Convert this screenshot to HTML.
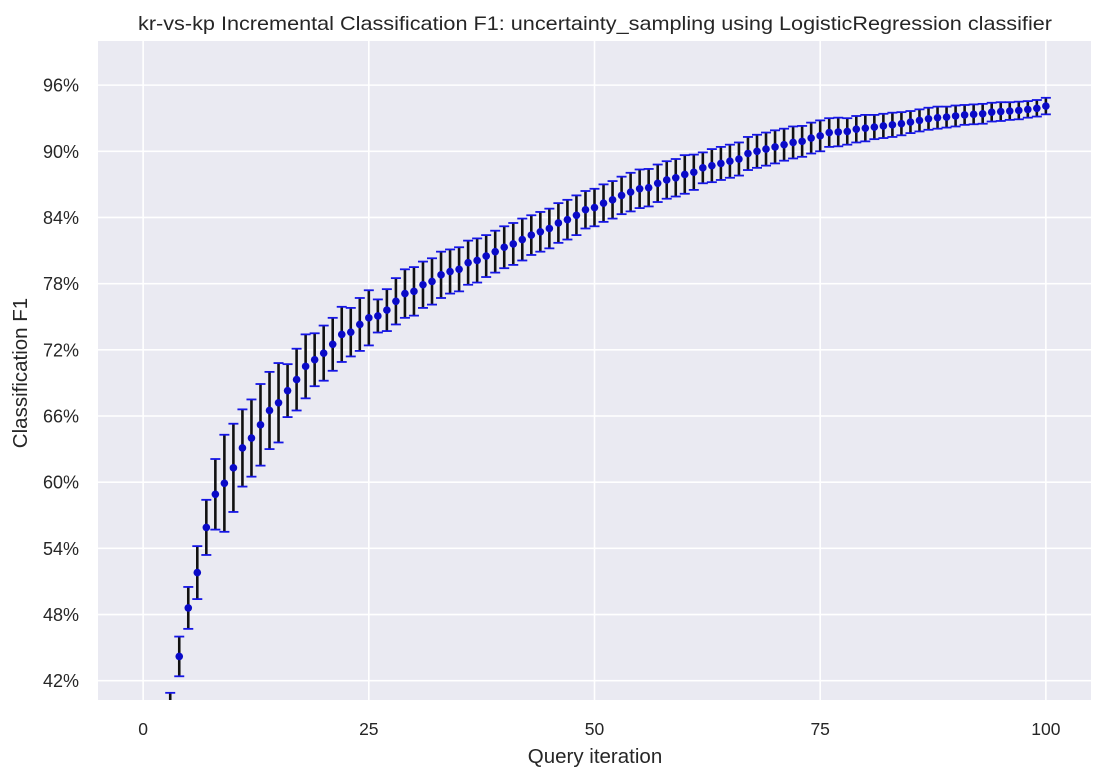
<!DOCTYPE html>
<html><head><meta charset="utf-8"><style>
html,body{margin:0;padding:0;background:#fff;overflow:hidden;width:1104px;height:779px;}
svg{display:block;font-family:"Liberation Sans",Arial,sans-serif;}
</style></head><body>
<svg id="chart" width="1104" height="779">
<defs><clipPath id="clip"><rect x="98" y="41" width="993" height="659"/></clipPath></defs>
<rect x="98" y="41" width="993" height="659" fill="#eaeaf2"/>
<g id="grid"></g><g id="marks"></g><g id="ticks"></g>
<text x="595" y="30" text-anchor="middle" font-size="19.5" textLength="914" lengthAdjust="spacingAndGlyphs" fill="#262626">kr-vs-kp Incremental Classification F1: uncertainty_sampling using LogisticRegression classifier</text>
<text x="595" y="763" text-anchor="middle" font-size="20.5" fill="#262626">Query iteration</text>
<text x="27" y="373" text-anchor="middle" font-size="20.5" fill="#262626" transform="rotate(-90 27 373)">Classification F1</text>
</svg>
<script>
const iterations = Array.from({length:101},(_,i)=>i);
const meanF1 = [30,34,37,39.2,44.2,48.6,51.8,55.9,58.9,59.9,61.3,63.1,64.0,65.2,66.5,67.2,68.3,69.3,70.5,71.1,71.7,72.5,73.4,73.6,74.3,74.9,
75.07,75.6,76.4,77.1,77.3,77.9,78.2,78.8,79.1,79.3,79.9,80.1,80.5,80.9,81.3,81.6,82.0,82.4,82.7,83.0,83.5,83.8,84.2,84.7,84.9,85.3,85.6,86.0,86.3,86.6,86.7,87.1,87.4,87.6,87.9,88.1,88.5,
88.7,88.9,89.1,89.3,89.8,90.0,90.2,90.4,90.6,90.8,90.9,91.2,91.4,91.7,91.75,91.8,92.0,92.1,92.2,92.3,92.4,92.5,92.65,92.8,92.95,93.05,93.1,93.2,93.3,93.35,93.4,93.55,93.6,93.65,93.7,93.8,93.9,94.1];
const errF1 = [2,2,2,1.7,1.8,1.9,2.4,2.5,3.2,4.4,4.0,3.5,3.5,3.7,3.5,3.6,2.4,2.8,2.9,2.4,2.5,2.4,2.5,2.2,2.4,2.5,
1.5,1.9,2.1,2.2,2.2,2.1,2.1,2.1,2.0,2.0,2.0,2.0,1.9,1.9,1.9,1.9,1.9,1.8,1.8,1.8,1.8,1.8,1.8,1.7,1.7,1.7,1.7,1.7,1.75,1.75,1.7,1.7,1.7,1.7,1.75,1.6,1.4,
1.5,1.5,1.5,1.5,1.5,1.5,1.5,1.5,1.45,1.45,1.4,1.4,1.4,1.3,1.3,1.2,1.2,1.2,1.1,1.1,1.1,1.05,1.0,1.0,1.0,1.0,0.95,0.95,0.9,0.9,0.9,0.85,0.85,0.8,0.8,0.75,0.75,0.75];
const yTicks = [42,48,54,60,66,72,78,84,90,96];
const xTicks = [0,25,50,75,100];
const NS='http://www.w3.org/2000/svg';
const L=98,R=1091,T=41,B=700;
const xs=v=>L+(v+5)/110*(R-L);
const ys=v=>T+(100-v)/(100-40.25)*(B-T);
function mk(tag,attrs,parent){const e=document.createElementNS(NS,tag);for(const k in attrs)e.setAttribute(k,attrs[k]);parent.appendChild(e);return e;}
const grid=document.getElementById('grid'),marks=document.getElementById('marks'),ticks=document.getElementById('ticks');
yTicks.forEach(t=>{const y=ys(t);
 const g=mk('line',{x1:L,x2:R,y1:y,y2:y,stroke:'#fff','stroke-width':1.6},grid);
 
 
 const tx=mk('text',{x:79,y:y+6.5,'text-anchor':'end','font-size':18,fill:'#262626'},ticks);
 tx.textContent=t+'%';
 
 
});
xTicks.forEach(t=>{const x=xs(t);
 const g=mk('line',{x1:x,x2:x,y1:T,y2:B,stroke:'#fff','stroke-width':1.6},grid);
 
 
 const tx=mk('text',{x:x,y:735,'text-anchor':'middle','font-size':17.5,fill:'#262626'},ticks);
 tx.textContent=t;
 
 
});
const cg=mk('g',{'clip-path':'url(#clip)'},marks);
iterations.forEach((it,i)=>{
 const x=xs(it),m=meanF1[i],e=errF1[i];
 const g=mk('g',{},cg);
 
 
 mk('line',{x1:x,x2:x,y1:ys(m+e),y2:ys(m-e),stroke:'#111','stroke-width':2.6},g);
 mk('line',{x1:x-5,x2:x+5,y1:ys(m+e),y2:ys(m+e),stroke:'#1515e6','stroke-width':1.8},g);
 mk('line',{x1:x-5,x2:x+5,y1:ys(m-e),y2:ys(m-e),stroke:'#1515e6','stroke-width':1.8},g);
 mk('circle',{cx:x,cy:ys(m),r:3.8,fill:'#0a0ac8'},g);
});
</script>
</body></html>
